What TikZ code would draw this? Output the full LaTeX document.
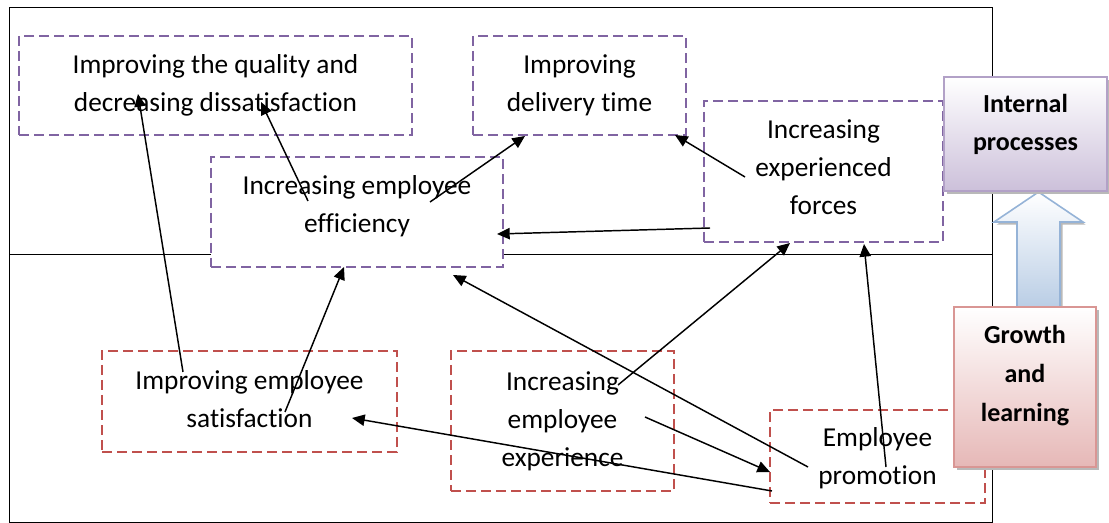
\documentclass[tikz,border=0pt]{standalone}
\usepackage{fontspec}
\setmainfont{Carlito}[Ligatures=NoCommon]
\usetikzlibrary{arrows.meta}
\usetikzlibrary{calc}
\usetikzlibrary{shadows}

\definecolor{goalpurple}{RGB}{128,100,162}
\definecolor{goalred}{RGB}{192,80,77}
\definecolor{perspurple}{RGB}{178,161,199}
\definecolor{persplilac}{RGB}{204,192,218}
\definecolor{persred}{RGB}{217,150,148}
\definecolor{perspink}{RGB}{230,184,183}
\definecolor{blockblue}{RGB}{149,179,215}
\definecolor{blocklight}{RGB}{185,205,229}

\tikzset{
  goaltext/.style={font=\fontsize{20.5}{28.5}\selectfont, align=center, inner sep=0pt, outer sep=0pt},
  upperbox/.style={goaltext, draw=goalpurple, fill=white, line width=1.9pt, dash pattern=on 7.5pt off 3.75pt},
  lowerbox/.style={goaltext, draw=goalred, fill=white, line width=1.9pt, dash pattern=on 7.5pt off 3.75pt},
  perspbox/.style={font=\fontsize{19.5}{29}\selectfont\bfseries, align=center, inner sep=0pt, outer sep=0pt, line width=1.2pt,
    drop shadow={shadow xshift=2pt, shadow yshift=-2pt, fill=gray!55, opacity=1}},
  link/.style={-{Triangle[length=9.5pt,width=8.5pt]}, line width=1.1pt},
}

\begin{document}
\begin{tikzpicture}[x=0.75pt,y=0.75pt,yscale=-1,xscale=1]
\useasboundingbox (0,0) rectangle (1109,523);

%Shape: Frame
\draw [line width=0.6pt] (9.5,7) rectangle (992.5,522);
%Straight Lines: divider
\draw [line width=0.6pt] (9.5,254) -- (992.5,254);

%Shape: Block arrow
\draw [blockblue, line width=1.2pt, top color=white, bottom color=blocklight,
  drop shadow={shadow xshift=2pt, shadow yshift=-2pt, fill=gray!55, opacity=1}]
  (1038.5,192) -- (1083,222) -- (1060,222) -- (1060,308) -- (1017,308) -- (1017,222) -- (994,222) -- cycle;

%Upper goals
\node [upperbox, minimum width=294.75pt, minimum height=74.25pt] (quality) at (215.5,85.5)
  {Improving the quality and\\decreasing dissatisfaction};
\node [upperbox, minimum width=159.75pt, minimum height=74.25pt] (delivery) at (579.5,85.5)
  {Improving\\delivery time};
\node [upperbox, minimum width=179.25pt, minimum height=105.75pt, text depth=6pt] (forces) at (823.5,171.5)
  {Increasing\\experienced\\forces};
\node [upperbox, minimum width=219pt, minimum height=82.5pt, text depth=11.4pt] (efficiency) at (357,212)
  {Increasing employee\\efficiency};

%Lower goals
\node [lowerbox, minimum width=221.25pt, minimum height=75.75pt, text depth=3.2pt] (satisfaction) at (249.5,401.5)
  {Improving employee\\satisfaction};
\node [lowerbox, minimum width=167.25pt, minimum height=105pt] (experience) at (562.5,421)
  {Increasing\\employee\\experience};
\node [lowerbox, minimum width=161.25pt, minimum height=69.75pt, text depth=-3.6pt] (promotion) at (877.5,456.5)
  {Employee\\promotion};

%Perspectives
\node [perspbox, draw=perspurple, top color=white, bottom color=persplilac,
  minimum width=122.25pt, minimum height=85.5pt, text depth=17.4pt] (internal) at (1025.5,134)
  {Internal\\processes};
\node [perspbox, draw=persred, top color=white, bottom color=perspink,
  minimum width=106.5pt, minimum height=120pt, text depth=20.4pt] (growth) at (1025,387)
  {Growth\\and\\learning};

%Connectors
\draw [link] ($(satisfaction.center)+(-66.5,-29.5)$) -- ($(quality.center)+(-77.5,8.5)$);
\draw [link] ($(efficiency.center)+(-49,-11)$) -- ($(quality.center)+(45.5,16.5)$);
\draw [link] ($(efficiency.center)+(73,-10)$) -- ($(delivery.center)+(-54.5,50.5)$);
\draw [link] ($(forces.center)+(-78.5,5.5)$) -- ($(delivery.center)+(95.5,49.5)$);
\draw [link] ($(forces.center)+(-113.5,56.5)$) -- ($(efficiency.center)+(140,22)$);
\draw [link] ($(satisfaction.center)+(35.5,10.5)$) -- ($(efficiency.center)+(-13,55)$);
\draw [link] ($(experience.center)+(55.5,-36)$) -- ($(forces.center)+(-33.5,71.5)$);
\draw [link] ($(promotion.center)+(-69.5,10.5)$) -- ($(efficiency.center)+(96,63)$);
\draw [link] ($(promotion.center)+(8.5,10.5)$) -- ($(forces.center)+(40.5,72.5)$);
\draw [link] ($(experience.center)+(82.5,-4)$) -- ($(promotion.center)+(-107.5,15.5)$);
\draw [link] ($(promotion.center)+(-105.5,34.5)$) -- ($(satisfaction.center)+(102.5,16.5)$);

\end{tikzpicture}
\end{document}
